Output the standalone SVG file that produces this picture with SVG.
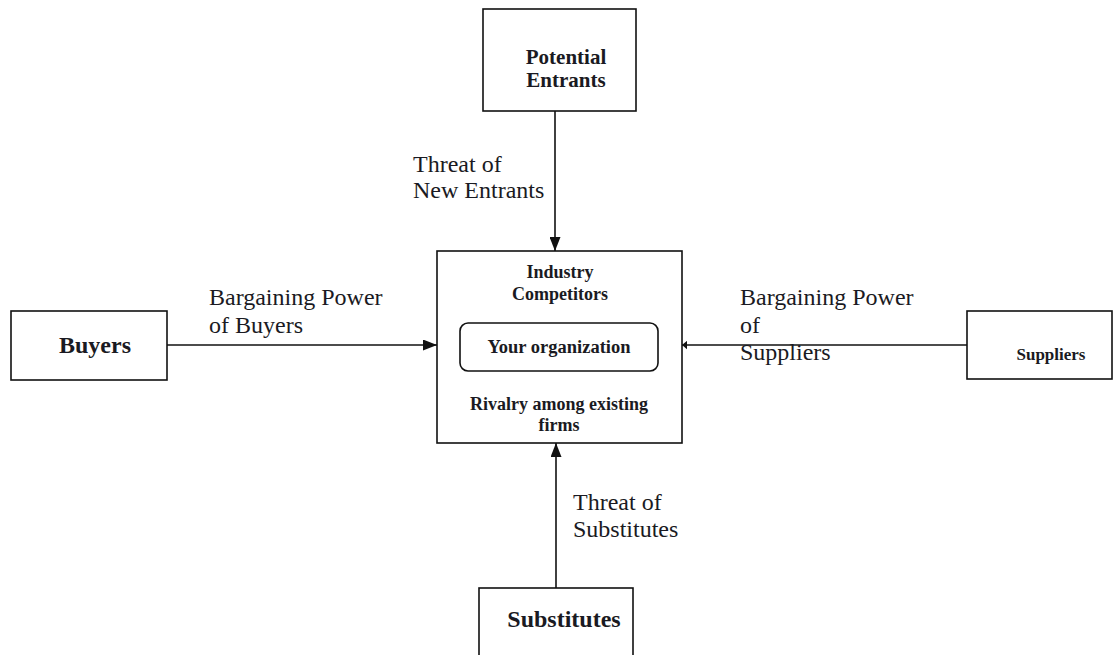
<svg xmlns="http://www.w3.org/2000/svg" width="1115" height="655" viewBox="0 0 1115 655">
  <style>
    .box { fill: #fff; stroke: #111; stroke-width: 1.6; }
    .edge { fill: none; stroke: #111; stroke-width: 1.6; }
    .lbl { font-family: "Liberation Serif", "Times New Roman", serif; font-size: 24px; fill: #1a1a22; }
    .nodeT { font-family: "Liberation Serif", "Times New Roman", serif; font-weight: bold; fill: #1a1a22; text-anchor: middle; }
  </style>
  <defs>
    <marker id="arrow" viewBox="0 0 14 11" refX="14" refY="5.5" markerWidth="14" markerHeight="11" markerUnits="userSpaceOnUse" orient="auto">
      <path d="M0,0 L14,5.5 L0,11 Z" fill="#111"/>
    </marker>
    <marker id="arrowSmall" viewBox="0 0 6 10" refX="6" refY="5" markerWidth="5" markerHeight="9" markerUnits="userSpaceOnUse" orient="auto">
      <path d="M0,0 L6,5 L0,10 Z" fill="#111"/>
    </marker>
  </defs>
  <rect width="1115" height="655" fill="#fff"/>

  <!-- connectors -->
  <g id="connectors">
    <line class="edge" x1="555" y1="111" x2="555" y2="251" marker-end="url(#arrow)"/>
    <line class="edge" x1="167" y1="345" x2="437" y2="345" marker-end="url(#arrow)"/>
    <line class="edge" x1="967" y1="345" x2="682" y2="345" marker-end="url(#arrowSmall)"/>
    <line class="edge" x1="556" y1="588" x2="556" y2="443" marker-end="url(#arrow)"/>
    <text class="lbl" x="413" y="172">Threat of</text>
    <text class="lbl" x="413" y="198">New Entrants</text>
    <text class="lbl" x="209" y="305">Bargaining Power</text>
    <text class="lbl" x="209" y="333">of Buyers</text>
    <text class="lbl" x="740" y="305">Bargaining Power</text>
    <text class="lbl" x="740" y="333">of</text>
    <text class="lbl" x="740" y="360">Suppliers</text>
    <text class="lbl" x="573" y="510">Threat of</text>
    <text class="lbl" x="573" y="537">Substitutes</text>
  </g>

  <!-- nodes -->
  <g id="potential-entrants">
    <rect class="box" x="483" y="9" width="153" height="102"/>
    <text class="nodeT" x="566" y="64" font-size="21">Potential</text>
    <text class="nodeT" x="566" y="87" font-size="21">Entrants</text>
  </g>

  <g id="industry-competitors">
    <rect class="box" x="437" y="251" width="245" height="192"/>
    <text class="nodeT" x="560" y="278" font-size="18">Industry</text>
    <text class="nodeT" x="560" y="300" font-size="18">Competitors</text>
    <text class="nodeT" x="559" y="410" font-size="18">Rivalry among existing</text>
    <text class="nodeT" x="559" y="431" font-size="18">firms</text>
  </g>

  <g id="your-organization">
    <rect class="box" x="460" y="323" width="198" height="48" rx="8" ry="8"/>
    <text class="nodeT" x="559" y="353" font-size="18.5">Your organization</text>
  </g>

  <g id="buyers">
    <rect class="box" x="11" y="311" width="156" height="69"/>
    <text class="nodeT" x="95" y="353" font-size="24">Buyers</text>
  </g>

  <g id="suppliers">
    <rect class="box" x="967" y="311" width="145" height="68"/>
    <text class="nodeT" x="1051" y="360" font-size="17">Suppliers</text>
  </g>

  <g id="substitutes">
    <rect class="box" x="479" y="588" width="154" height="80"/>
    <text class="nodeT" x="564" y="627" font-size="24">Substitutes</text>
  </g>
</svg>
